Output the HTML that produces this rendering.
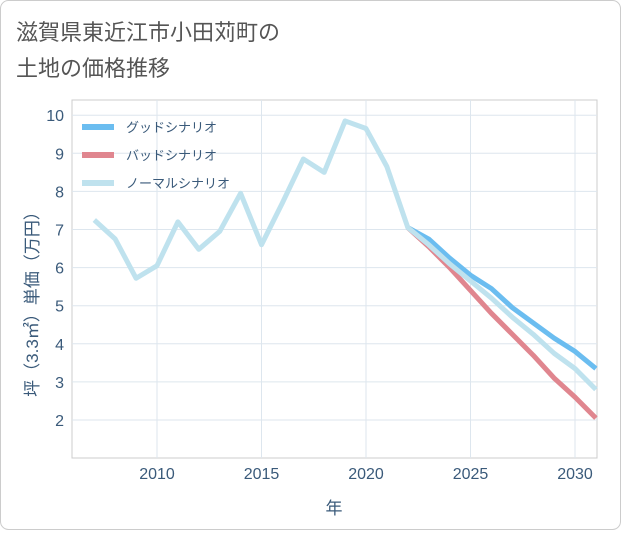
<!DOCTYPE html>
<html><head><meta charset="utf-8"><style>
body{margin:0;background:#fff;font-family:"Liberation Sans","Noto Sans CJK JP",sans-serif;}
#wrap{position:relative;width:621px;height:530px;}
</style></head><body>
<div id="wrap">
<svg id="svg" width="621" height="530" xmlns="http://www.w3.org/2000/svg">
<rect x="0.5" y="0.5" width="620" height="529" rx="8" fill="#fff" stroke="#ccc"/>
<text x="16" y="40" font-size="22" fill="#555">滋賀県東近江市小田苅町の</text>
<text x="16" y="76" font-size="22" fill="#555">土地の価格推移</text>
<rect x="72" y="100" width="525" height="358" fill="#fff" stroke="#ccc"/>
<g id="grid"></g>
<g id="series"></g>
<text transform="translate(38,300) rotate(-90)" text-anchor="middle" font-size="17" fill="#3a5a7a">坪（3.3㎡）単価（万円）</text>
<text x="334" y="514" text-anchor="middle" font-size="17" fill="#3a5a7a">年</text>
<g id="legend"></g>
</svg>
</div>
<script>
const years=[2007,2008,2009,2010,2011,2012,2013,2014,2015,2016,2017,2018,2019,2020,2021,2022,2023,2024,2025,2026,2027,2028,2029,2030,2031];
const normalVals=[7.25,6.75,5.72,6.05,7.2,6.48,6.95,7.95,6.6,7.7,8.85,8.5,9.85,9.65,8.65,7.05,6.6,6.1,5.65,5.2,4.7,4.25,3.75,3.35,2.8];
const futureYears=[2022,2023,2024,2025,2026,2027,2028,2029,2030,2031];
const goodVals=[7.05,6.75,6.25,5.8,5.45,4.95,4.55,4.15,3.8,3.35];
const badVals=[7.05,6.55,6.0,5.4,4.8,4.25,3.7,3.1,2.6,2.05];
const xTicks=[2010,2015,2020,2025,2030];
const yTicks=[2,3,4,5,6,7,8,9,10];
const legendLabels=["グッドシナリオ","バッドシナリオ","ノーマルシナリオ"];
const NS="http://www.w3.org/2000/svg";
function xs(y){return 157+(y-2010)*20.9;}
function ys(v){return 420-(v-2)*38.1;}
function mk(t,a,p){const e=document.createElementNS(NS,t);for(const k in a)e.setAttribute(k,a[k]);p.appendChild(e);return e;}
const grid=document.getElementById('grid');
xTicks.forEach(t=>{
 const l=mk('line',{x1:xs(t),x2:xs(t),y1:100,y2:458,stroke:'#dde6ee'},grid);
 
 
 const tx=mk('text',{x:xs(t),y:479,'text-anchor':'middle','font-size':16,fill:'#3a5a7a'},grid);
 tx.textContent=t;
 
 
});
yTicks.forEach(t=>{
 const l=mk('line',{x1:72,x2:597,y1:ys(t),y2:ys(t),stroke:'#dde6ee'},grid);
 
 
 const tx=mk('text',{x:64,y:ys(t)+6,'text-anchor':'end','font-size':16,fill:'#3a5a7a'},grid);
 tx.textContent=t;
 
 
});
const ser=document.getElementById('series');
function line(xv,yv,color,name){
 const d=xv.map((x,i)=>(i?'L':'M')+xs(x)+','+ys(yv[i])).join(' ');
 const p=mk('path',{d:d,fill:'none',stroke:color,'stroke-width':5,'stroke-linejoin':'round'},ser);
 
 
}
line(futureYears,goodVals,'#6bbdf0','good-scenario-line');
line(futureYears,badVals,'#e0868f','bad-scenario-line');
line(years,normalVals,'#bfe2ee','normal-scenario-line');
const lg=document.getElementById('legend');
const cols=['#6bbdf0','#e0868f','#bfe2ee'];
legendLabels.forEach((s,i)=>{
 const y=127+i*28;
 const r=mk('rect',{x:82,y:y-3,width:32,height:6,fill:cols[i]},lg);
 
 
 const t=mk('text',{x:126,y:y+5,'font-size':13,fill:'#3a5a7a'},lg);
 t.textContent=s;
 
 
});
</script>
</body></html>
